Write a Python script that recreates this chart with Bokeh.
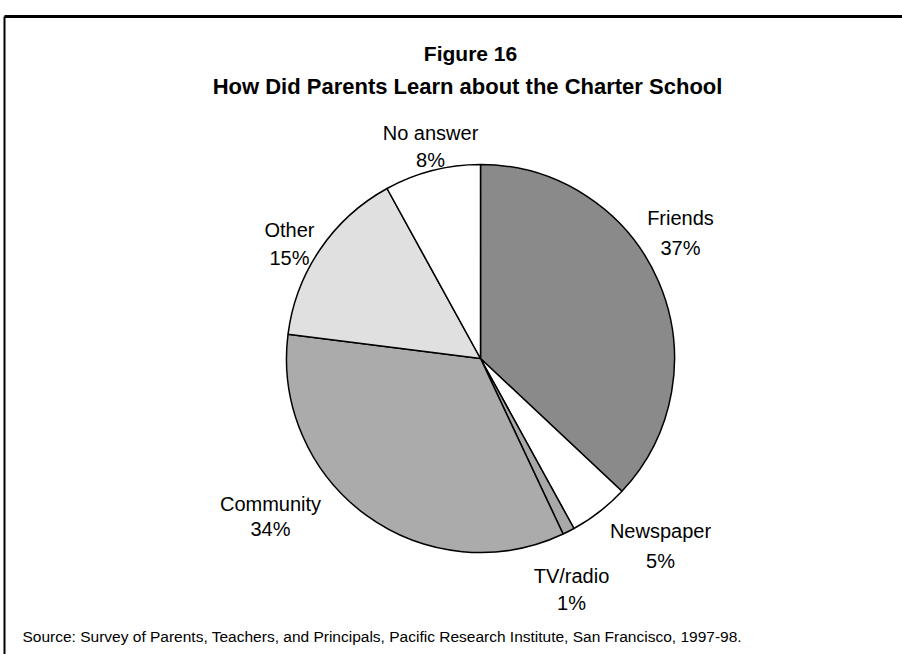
import math
from bokeh.plotting import figure
from bokeh.models import Range1d, ColumnDataSource
from bokeh.core.properties import value
from bokeh.embed import file_html
from bokeh.resources import INLINE

# ---- data ----
categories = ["Friends", "Newspaper", "TV/radio", "Community", "Other", "No answer"]
percents = [37, 5, 1, 34, 15, 8]
colors = ["#8a8a8a", "#ffffff", "#a8a8a8", "#ababab", "#e0e0e0", "#ffffff"]
title_lines = ["Figure 16", "How Did Parents Learn about the Charter School"]
source_note = ("Source: Survey of Parents, Teachers, and Principals, Pacific Research "
               "Institute, San Francisco, 1997-98.")

W, H = 902, 654
p = figure(width=W, height=H, output_backend="svg", toolbar_location=None,
           x_range=Range1d(0, W), y_range=Range1d(0, H), min_border=0,
           match_aspect=False)
p.axis.visible = False
p.grid.visible = False
p.outline_line_color = None
p.background_fill_color = "white"
p.border_fill_color = "white"

def Y(iy):  # picture y -> data y
    return H - iy

def X(ix):
    return ix

# frame
p.line(x=[X(4), X(W)], y=[Y(16), Y(16)], line_color="black", line_width=3)
p.line(x=[X(4), X(4)], y=[Y(16), -5], line_color="black", line_width=2)

# pie
cx, cy, r = X(480), Y(358), 194
total = sum(percents)
starts, ends = [], []
cum = 0.0
for v in percents:
    a0 = cum / total
    cum += v
    a1 = cum / total
    starts.append(math.pi / 2 - 2 * math.pi * a1)
    ends.append(math.pi / 2 - 2 * math.pi * a0)
src = ColumnDataSource(dict(cat=categories, start=starts, end=ends, color=colors))
p.wedge(x=cx, y=cy, radius=r, start_angle="start", end_angle="end", source=src,
        fill_color="color", line_color="black", line_width=1.5, direction="anticlock")

# title
p.text(x=[X(470)], y=[Y(53)], text=[title_lines[0]], text_font=value("Liberation Sans"),
       text_font_style="bold", text_font_size="21px", text_align="center",
       text_baseline="alphabetic", text_color="black")
p.text(x=[X(467)], y=[Y(86)], text=[title_lines[1]], text_font=value("Liberation Sans"),
       text_font_style="bold", text_font_size="22px", text_align="center",
       text_baseline="alphabetic", text_color="black")

# labels: (name-baseline, pct-baseline, center x) in picture coords
label_pos = {
    "No answer": (132, 159, 430),
    "Friends": (217, 247, 680),
    "Other": (229, 257, 289),
    "Community": (503, 528, 270),
    "Newspaper": (530, 560, 660),
    "TV/radio": (575, 602, 571),
}
lx, ly, lt = [], [], []
for cat, pct in zip(categories, percents):
    b1, b2, xc = label_pos[cat]
    lx += [X(xc), X(xc)]
    ly += [Y(b1), Y(b2)]
    lt += [cat, f"{pct}%"]
p.text(x=lx, y=ly, text=lt, text_font=value("Liberation Sans"),
       text_font_size="20px", text_align="center", text_baseline="alphabetic",
       text_color="black")

# source
p.text(x=[X(22)], y=[Y(636)], text=[source_note], text_font=value("Liberation Sans"),
       text_font_size="15.5px", text_align="left", text_baseline="alphabetic",
       text_color="black")

open("out.html", "w").write(file_html(p, INLINE))
